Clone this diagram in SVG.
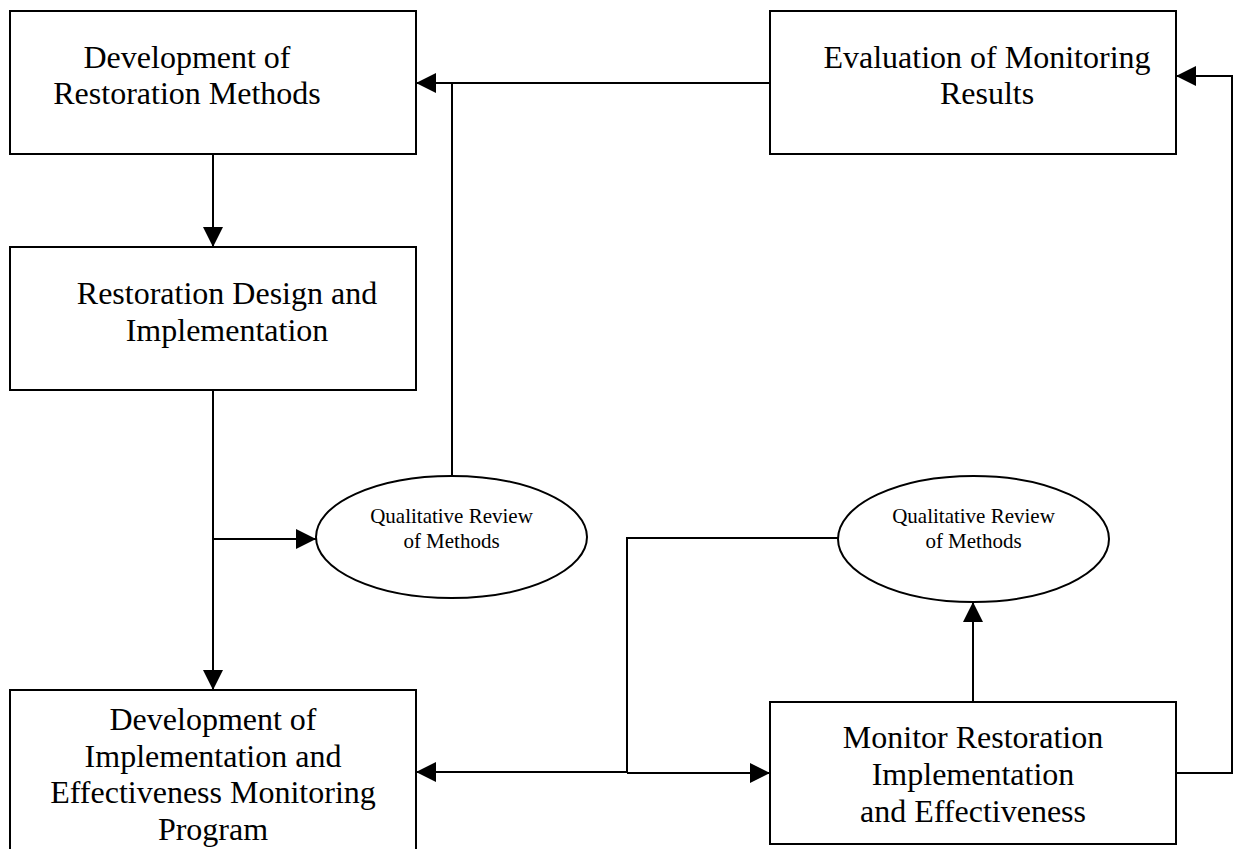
<svg xmlns="http://www.w3.org/2000/svg" width="1234" height="849" viewBox="0 0 1234 849">
<style>
.box{fill:#fff;stroke:#000;stroke-width:2}
.ell{fill:#fff;stroke:#000;stroke-width:2}
.t{font-family:"Liberation Serif","Times New Roman",serif;font-size:32px;fill:#000;text-anchor:middle}
.s{font-family:"Liberation Serif","Times New Roman",serif;font-size:21px;fill:#000;text-anchor:middle}
.c{fill:none;stroke:#000;stroke-width:2}
</style>
<defs>
<marker id="ah" viewBox="0 0 20 20" refX="20" refY="10" markerWidth="20" markerHeight="20" markerUnits="userSpaceOnUse" orient="auto-start-reverse">
<path d="M0,0 L20,10 L0,20 z" fill="#000"/>
</marker>
</defs>
<rect width="1234" height="849" fill="#fff"/>
<g id="connectors">
<path class="c" d="M213,154 V247" marker-end="url(#ah)"/>
<path class="c" d="M213,390 V690" marker-end="url(#ah)"/>
<path class="c" d="M213,539 H316" marker-end="url(#ah)"/>
<path class="c" d="M770,83 H416" marker-end="url(#ah)"/>
<path class="c" d="M452,476 V83"/>
<path class="c" d="M973,709 V602" marker-end="url(#ah)"/>
<path class="c" d="M1176,773 H1232 V76 H1176" marker-end="url(#ah)"/>
<path class="c" d="M416,772 H627" marker-start="url(#ah)"/>
<path class="c" d="M627,773 H770" marker-end="url(#ah)"/>
<path class="c" d="M838,538 H627 V773"/>
</g>
<g id="node-dev-methods">
<rect class="box" x="10" y="11" width="406" height="143"/>
<text class="t" x="187" y="68">Development of</text>
<text class="t" x="187" y="104">Restoration Methods</text>
</g>
<g id="node-evaluation">
<rect class="box" x="770" y="11" width="406" height="143"/>
<text class="t" x="987" y="68">Evaluation of Monitoring</text>
<text class="t" x="987" y="104">Results</text>
</g>
<g id="node-design">
<rect class="box" x="10" y="247" width="406" height="143"/>
<text class="t" x="227" y="304">Restoration Design and</text>
<text class="t" x="227" y="341">Implementation</text>
</g>
<g id="node-review-1">
<ellipse class="ell" cx="451.5" cy="537" rx="135.5" ry="61"/>
<text class="s" x="451.5" y="523">Qualitative Review</text>
<text class="s" x="451.5" y="548">of Methods</text>
</g>
<g id="node-review-2">
<ellipse class="ell" cx="973.5" cy="539" rx="135.5" ry="63"/>
<text class="s" x="973.5" y="523">Qualitative Review</text>
<text class="s" x="973.5" y="548">of Methods</text>
</g>
<g id="node-dev-program">
<rect class="box" x="10" y="690" width="406" height="180"/>
<text class="t" x="213" y="730">Development of</text>
<text class="t" x="213" y="767">Implementation and</text>
<text class="t" x="213" y="803">Effectiveness Monitoring</text>
<text class="t" x="213" y="840">Program</text>
</g>
<g id="node-monitor">
<rect class="box" x="770" y="702" width="406" height="142"/>
<text class="t" x="973" y="748">Monitor Restoration</text>
<text class="t" x="973" y="785">Implementation</text>
<text class="t" x="973" y="822">and Effectiveness</text>
</g>
</svg>
